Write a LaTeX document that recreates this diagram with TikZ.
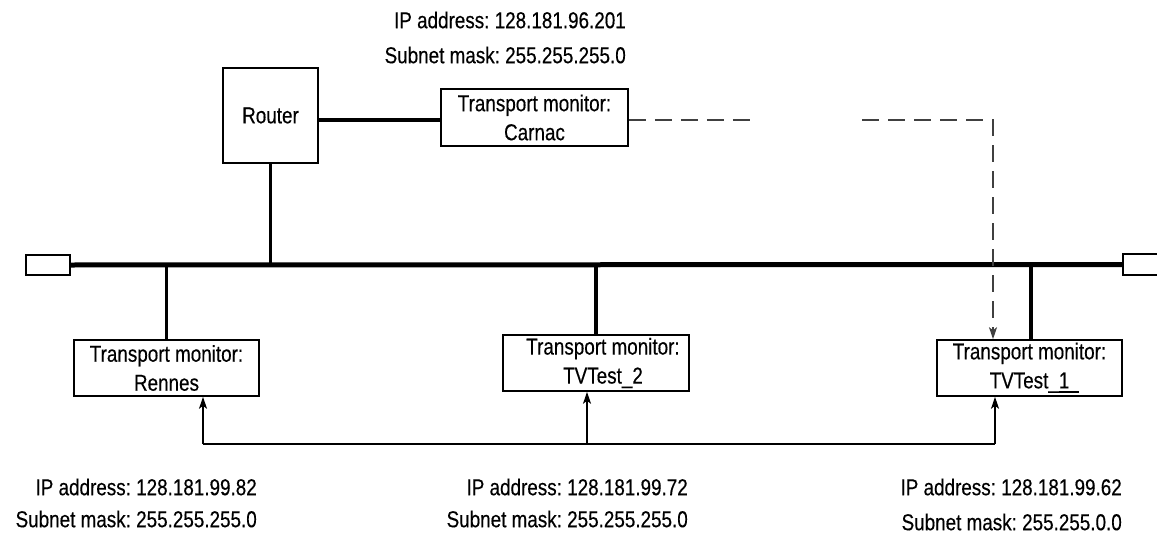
\documentclass[tikz,border=0pt]{standalone}
\usepackage{fontspec}
\setmainfont{Liberation Sans}[FakeStretch=0.82,FakeBold=0.35]
\usetikzlibrary{arrows.meta}
\frenchspacing
\begin{document}
\begin{tikzpicture}[x=1pt,y=-1pt,
  box/.style={draw,line width=1.6pt,inner sep=0pt,align=center,font=\fontsize{23}{29}\selectfont},
  term/.style={draw,line width=1.6pt,inner sep=0pt},
  lbl/.style={anchor=east,inner sep=0pt,font=\fontsize{23}{28}\selectfont},
  busline/.style={line width=5pt},
  dropline/.style={line width=3.5pt},
  thin/.style={line width=1.2pt},
  tip/.style={-{Stealth[length=12pt,width=8pt,inset=3pt]}},
  dashline/.style={line width=1.3pt,draw=black!75,dash pattern=on 17pt off 9pt}]
\useasboundingbox (0,0) rectangle (1157,535);
\clip (0,0) rectangle (1157,535);
% nodes
\node[box,minimum width=95pt,minimum height=95pt] (router) at (270.5,115.5) {Router};
\node[box,minimum width=187pt,minimum height=57pt] (carnac) at (534.5,117.5) {Transport monitor:\\Carnac};
\node[term,minimum width=44pt,minimum height=20pt] (termL) at (48,265) {};
\node[term,minimum width=44pt,minimum height=21pt] (termR) at (1145,264.5) {};
\node[box,minimum width=185pt,minimum height=56pt] (rennes) at (166.5,368) {Transport monitor:\\Rennes};
\node[box,minimum width=186pt,minimum height=56pt] (tv2) at (596,363) {\hspace*{14pt}Transport monitor:\\\hspace*{14pt}TVTest\_2};
\node[box,minimum width=185pt,minimum height=56pt] (tv1) at (1029.5,368) {Transport monitor:\\TVTest\_\rlap{\rule[-5pt]{20.5pt}{2pt}}1};
% labels
\node[lbl] (ipc) at (626,20) {IP address: 128.181.96.201};
\node[lbl] (smc) at (626,55) {Subnet mask: 255.255.255.0};
\node[lbl] (ipr) at (257,487) {IP address: 128.181.99.82};
\node[lbl] (smr) at (257,519) {Subnet mask: 255.255.255.0};
\node[lbl] (ip2) at (688,487) {IP address: 128.181.99.72};
\node[lbl] (sm2) at (688,519) {Subnet mask: 255.255.255.0};
\node[lbl] (ip1) at (1122,487) {IP address: 128.181.99.62};
\node[lbl] (sm1) at (1122,522) {Subnet mask: 255.255.0.0};
% helper coordinates
\coordinate (bus) at (0,265);
\coordinate (rc) at (0,120);
\coordinate (d1) at (755,120);
\coordinate (d2) at (862,120);
\coordinate (d3) at (993,120);
\coordinate (a1) at (203,444);
\coordinate (a2) at (587,444);
\coordinate (a3) at (995,444);
% bus
\draw[busline] (termL.east) -- (termR.west);
% drops
\draw[dropline] (router.south) -- (router.south |- bus);
\draw[dropline] (router.east |- rc) -- (carnac.west |- rc);
\draw[dropline] (rennes.north) -- (rennes.north |- bus);
\draw[dropline] (tv2.north) -- (tv2.north |- bus);
\draw[dropline] ([xshift=1.5pt]tv1.north) -- ([xshift=1.5pt]tv1.north |- bus);
% dashed link
\draw[dashline] (carnac.east |- d1) -- (d1);
\draw[dashline,tip] (d2) -- (d3) -- (d3 |- tv1.north);
% bottom link
\draw[thin] (a1) -- (a3);
\draw[thin,tip] (a1) -- (a1 |- rennes.south);
\draw[thin,tip] (a2) -- (a2 |- tv2.south);
\draw[thin,tip] (a3) -- (a3 |- tv1.south);
\end{tikzpicture}
\end{document}
